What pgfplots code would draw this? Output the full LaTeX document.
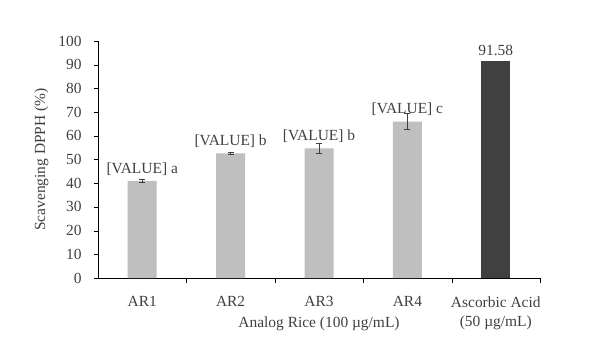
\documentclass[border=0pt]{standalone}
\usepackage{fontspec}
\setmainfont{Liberation Serif}
\usepackage{pgfplots}
\usepackage{pgfplotstable}
\pgfplotsset{compat=1.18}

\definecolor{barlight}{HTML}{BFBFBF}
\definecolor{bardark}{HTML}{404040}
\definecolor{txt}{HTML}{404040}

\pgfplotstableread[col sep=comma]{
x,y,e,lab
0,41.0,0.5,{[VALUE] a}
1,52.6,0.5,{[VALUE] b}
2,54.7,2.2,{[VALUE] b}
3,66.0,3.4,{[VALUE] c}
}\analog
\pgfplotstableread[col sep=comma]{
x,y,lab
4,91.58,91.58
}\ascorbic

\begin{document}
\begin{tikzpicture}[font=\fontsize{15.5}{19.5}\selectfont]
\begin{axis}[
    at={(0,0)}, anchor=south west,
    scale only axis,
    width=442bp, height=237bp,
    xmin=-0.5, xmax=4.5,
    ymin=0, ymax=100,
    ytick={0,10,...,100},
    xtick={0,1,2,3,4},
    xticklabels={AR1,AR2,AR3,AR4,{Ascorbic Acid\\(50 µg/mL)}},
    tick label style={font=\fontsize{15.5}{19.5}\selectfont},
    label style={font=\fontsize{15.5}{19.5}\selectfont},
    x tick label style={align=center, text=txt, yshift=-11bp},
    y tick label style={text=txt, xshift=-9bp},
    major x tick style={draw=none},
    minor xtick={0.5,1.5,2.5,3.5,4.5},
    minor x tick style={black},
    minor tick length=5bp,
    major tick length=4bp,
    tick align=outside,
    y tick style={black},
    axis x line*=bottom,
    axis y line*=left,
    axis line style={black, thin},
    xlabel={Analog Rice (100 µg/mL)},
    xlabel style={text=txt, at={(0.5,0)}, anchor=north, yshift=-35bp},
    ylabel={Scavenging DPPH (\%)},
    ylabel style={text=txt, at={(0,0.5)}, anchor=south, yshift=46bp},
    /pgf/number format/assume math mode=true,
    nodes near coords,
    point meta=explicit symbolic,
    nodes near coords style={text=txt, anchor=south, yshift=2bp, font=\fontsize{15.5}{19.5}\selectfont},
    clip=false,
]
\addplot[ybar, bar width=29bp, bar shift=0pt, fill=barlight, draw=none,
    error bars/.cd, y dir=both, y explicit,
    error bar style={draw=txt, line width=0.8pt},
    error mark options={rotate=90, mark size=3bp, draw=txt, line width=0.8pt}]
    table[x=x, y=y, y error=e, meta=lab] {\analog};
\addplot[ybar, bar width=29bp, bar shift=0pt, fill=bardark, draw=none]
    table[x=x, y=y, meta=lab] {\ascorbic};
\end{axis}
\path[use as bounding box] (-98bp,-76bp) rectangle (493bp,278bp);
\end{tikzpicture}
\end{document}
